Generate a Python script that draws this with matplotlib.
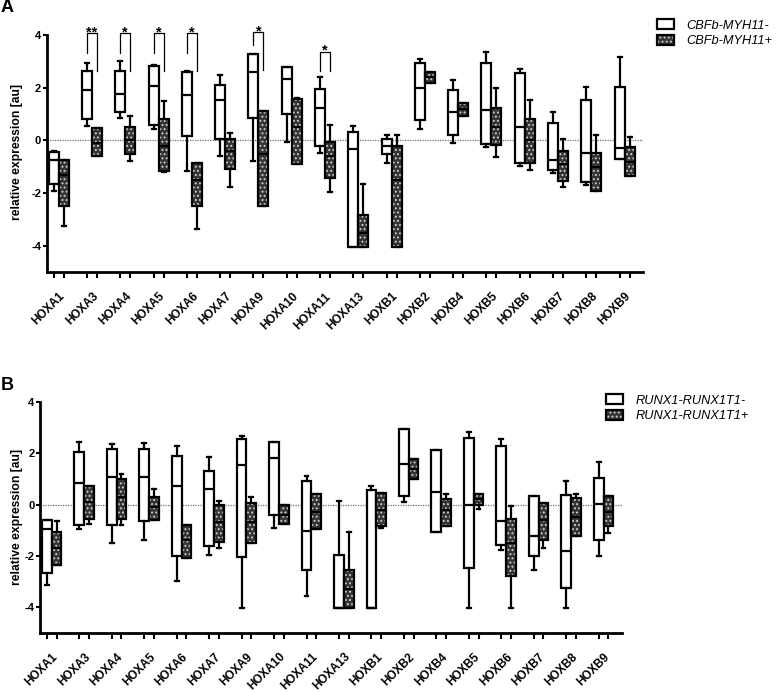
import numpy as np
import matplotlib
matplotlib.use("Agg")
import matplotlib.pyplot as plt
from matplotlib.patches import Patch, PathPatch

plt.rcParams['font.family'] = ['Liberation Sans', 'DejaVu Sans']
plt.rcParams['hatch.linewidth'] = 0.9

# -----------------------------------
# data: one row per gene = [whisker low, q1, median, q3, whisker high]
# -----------------------------------
genes = ["HOXA1", "HOXA3", "HOXA4", "HOXA5", "HOXA6", "HOXA7", "HOXA9",
         "HOXA10", "HOXA11", "HOXA13", "HOXB1", "HOXB2", "HOXB4", "HOXB5",
         "HOXB6", "HOXB7", "HOXB8", "HOXB9"]

cbfb_neg = [[-1.90, -1.65, -0.75, -0.45, -0.40],
            [0.54, 0.80, 1.90, 2.65, 2.93],
            [0.86, 1.07, 1.75, 2.65, 3.00],
            [0.42, 0.57, 2.07, 2.84, 2.86],
            [-1.16, 0.16, 1.74, 2.60, 2.62],
            [-0.59, 0.06, 1.55, 2.11, 2.49],
            [-0.78, 0.86, 2.58, 3.27, 3.29],
            [-0.06, 1.00, 2.33, 2.77, 2.79],
            [-0.49, -0.21, 1.23, 1.95, 2.40],
            [-4.05, -4.05, -0.31, 0.31, 0.54],
            [-0.87, -0.53, -0.20, 0.04, 0.20],
            [0.44, 0.77, 1.99, 2.93, 3.08],
            [-0.11, 0.19, 1.07, 1.92, 2.28],
            [-0.25, -0.15, 1.17, 2.93, 3.37],
            [-0.97, -0.84, 0.52, 2.55, 2.72],
            [-1.22, -1.12, -0.74, 0.67, 1.07],
            [-1.70, -1.57, -0.46, 1.55, 2.03],
            [-0.69, -0.69, -0.28, 2.03, 3.18]]

cbfb_pos = [[-3.25, -2.50, -1.30, -0.75, -0.75],
            [-0.60, -0.60, -0.10, 0.48, 0.48],
            [-0.78, -0.53, 0.00, 0.50, 0.94],
            [-1.20, -1.16, -0.20, 0.80, 1.48],
            [-3.36, -2.48, -1.50, -0.85, -0.85],
            [-1.75, -1.10, -0.40, 0.06, 0.29],
            [-2.50, -2.48, -0.50, 1.10, 1.12],
            [-0.90, -0.90, 0.50, 1.58, 1.60],
            [-1.95, -1.41, -0.60, -0.06, 0.57],
            [-4.05, -4.05, -3.50, -2.83, -1.66],
            [-4.05, -4.05, -1.50, -0.21, 0.20],
            [2.18, 2.18, 2.40, 2.58, 2.58],
            [0.92, 0.92, 1.20, 1.42, 1.42],
            [-0.62, -0.19, 0.50, 1.23, 1.99],
            [-1.12, -0.84, 0.00, 0.82, 1.52],
            [-1.75, -1.53, -0.90, -0.40, 0.06],
            [-1.91, -1.91, -1.00, -0.46, 0.19],
            [-1.35, -1.35, -0.80, -0.24, 0.14]]

runx_neg = [[-3.12, -2.69, -0.95, -0.59, -0.59],
            [-0.95, -0.78, 0.85, 2.04, 2.43],
            [-1.50, -0.81, 1.07, 2.15, 2.38],
            [-1.37, -0.65, 1.08, 2.15, 2.41],
            [-2.99, -2.02, 0.74, 1.91, 2.28],
            [-1.95, -1.60, 0.59, 1.30, 1.86],
            [-4.03, -2.04, 1.56, 2.54, 2.67],
            [-0.91, -0.42, 1.82, 2.43, 2.45],
            [-3.58, -2.56, -1.04, 0.91, 1.10],
            [-4.05, -4.05, -4.05, -1.95, 0.13],
            [-4.05, -4.05, -4.05, 0.56, 0.74],
            [0.09, 0.33, 1.59, 2.93, 2.95],
            [-1.08, -1.08, 0.48, 2.11, 2.13],
            [-4.03, -2.47, 0.00, 2.60, 2.83],
            [-1.76, -1.56, -0.65, 2.28, 2.54],
            [-2.54, -2.02, -1.21, 0.33, 0.35],
            [-4.03, -3.25, -1.82, 0.39, 0.91],
            [-1.99, -1.37, 0.04, 1.04, 1.65]]

runx_pos = [[-2.37, -2.37, -1.70, -1.08, -0.65],
            [-0.74, -0.56, 0.10, 0.72, 0.72],
            [-0.78, -0.56, 0.30, 1.00, 1.20],
            [-0.60, -0.59, -0.10, 0.29, 0.61],
            [-2.08, -2.08, -1.40, -0.78, -0.78],
            [-1.69, -1.47, -0.70, 0.00, 0.13],
            [-1.52, -1.52, -0.70, 0.07, 0.29],
            [-0.74, -0.74, -0.40, 0.00, 0.00],
            [-0.95, -0.95, -0.30, 0.42, 0.42],
            [-4.05, -4.05, -3.30, -2.54, -1.08],
            [-0.90, -0.82, -0.20, 0.45, 0.45],
            [1.00, 1.00, 1.40, 1.76, 1.76],
            [-0.82, -0.82, -0.20, 0.22, 0.43],
            [-0.17, 0.00, 0.20, 0.42, 0.42],
            [-4.03, -2.80, -1.50, -0.56, -0.07],
            [-1.69, -1.37, -0.60, 0.07, 0.07],
            [-1.24, -1.24, -0.50, 0.26, 0.43],
            [-1.10, -0.82, -0.30, 0.33, 0.33]]

# significance brackets in panel A
sig_gene = ["HOXA3", "HOXA4", "HOXA5", "HOXA6", "HOXA9", "HOXA11"]
sig_mark = ["**", "*", "*", "*", "*", "*"]
sig_top = [4.07, 4.07, 4.07, 4.07, 4.12, 3.37]
sig_left = [3.30, 3.30, 3.30, 3.30, 3.62, 2.65]
sig_right = [2.62, 2.62, 2.62, 2.62, 2.68, 2.62]

GRAY = '#343434'
DOTS = '#cfcfcf'
OFF = 0.15

W, H = 778, 692
fig = plt.figure(figsize=(W / 100, H / 100), dpi=100)


def px_axes(l, t, r, b):
    return fig.add_axes([l / W, 1 - b / H, (r - l) / W, (b - t) / H])


def stats(rows):
    return [dict(whislo=r[0], q1=r[1], med=r[2], q3=r[3], whishi=r[4]) for r in rows]


def panel(ax, neg, pos, neg_label, pos_label, leg_xy):
    x = np.arange(len(genes))
    common = dict(widths=0.3, capwidths=0.12, patch_artist=True, showfliers=False,
                  manage_ticks=False,
                  whiskerprops=dict(color='black', lw=1.6),
                  capprops=dict(color='black', lw=1.6),
                  medianprops=dict(color='black', lw=1.6))
    ax.bxp(stats(neg), positions=x - OFF,
           boxprops=dict(facecolor='white', edgecolor='black', lw=1.6), **common)
    bp = ax.bxp(stats(pos), positions=x + OFF,
                boxprops=dict(facecolor=GRAY, edgecolor=DOTS, hatch='....', lw=0), **common)
    for box in bp['boxes']:
        ax.add_patch(PathPatch(box.get_path(), transform=box.get_transform(),
                               facecolor='none', edgecolor='black', lw=1.6,
                               zorder=box.get_zorder() + 0.05))

    ax.axhline(0, color='#707070', ls=(0, (1, 1)), lw=0.9, zorder=0.5)

    ax.set_xlim(-0.36, 17.56)
    ax.set_ylim(-5, 4)
    ax.set_yticks([-4, -2, 0, 2, 4])
    ax.set_yticklabels(['-4', '-2', '0', '2', '4'], fontweight='bold', fontsize=8)
    ax.set_xticks(x)
    ax.set_xticklabels(genes, rotation=45, ha='right', va='top', rotation_mode='anchor',
                       fontweight='bold', fontsize=8.5)
    ax.set_xticks(np.concatenate([x - OFF, x + OFF]), minor=True)
    ax.tick_params(axis='x', which='major', length=0, pad=13)
    ax.tick_params(axis='x', which='minor', length=4.5, width=1.5)
    ax.tick_params(axis='y', length=3, width=1.5, pad=1)
    for s in ['top', 'right']:
        ax.spines[s].set_visible(False)
    for s in ['left', 'bottom']:
        ax.spines[s].set_linewidth(2.0)

    handles = [Patch(facecolor='white', edgecolor='black', lw=1.6),
               (Patch(facecolor=GRAY, edgecolor=DOTS, hatch='....', lw=0),
                Patch(facecolor='none', edgecolor='black', lw=1.6))]
    fig.legend(handles, [neg_label, pos_label], loc='upper left',
               bbox_to_anchor=(leg_xy[0] / W, 1 - leg_xy[1] / H),
               frameon=False, borderpad=0, borderaxespad=0,
               handlelength=1.3, handleheight=0.85, handletextpad=1.0,
               labelspacing=0.25, prop=dict(style='italic', size=9.2))


# -----------------------------------
# panel A
# -----------------------------------
axA = px_axes(46.7, 35, 643.3, 272.3)
panel(axA, cbfb_neg, cbfb_pos, "CBFb-MYH11-", "CBFb-MYH11+", (657, 19))

for g, mark, top, yl, yr in zip(sig_gene, sig_mark, sig_top, sig_left, sig_right):
    i = genes.index(g)
    axA.plot([i - OFF, i - OFF, i + OFF, i + OFF], [yl, top, top, yr],
             color='black', lw=0.9, clip_on=False)
    axA.text(i, top - 0.12, mark, ha='center', va='baseline', fontsize=10.5,
             fontweight='bold', clip_on=False)

fig.text(17 / W, 1 - 152 / H, "relative expression [au]", rotation=90,
         ha='center', va='center', fontsize=8.7, fontweight='bold')
fig.text(7 / W, 1 - 7 / H, "A", ha='center', va='center', fontsize=13, fontweight='bold')

# -----------------------------------
# panel B
# -----------------------------------
axB = px_axes(40, 402, 621.7, 632.7)
panel(axB, runx_neg, runx_pos, "RUNX1-RUNX1T1-", "RUNX1-RUNX1T1+", (606, 394))

fig.text(16.7 / W, 1 - 517 / H, "relative expression [au]", rotation=90,
         ha='center', va='center', fontsize=8.7, fontweight='bold')
fig.text(7 / W, 1 - 386 / H, "B", ha='center', va='center', fontsize=13, fontweight='bold')

fig.savefig("out.png", dpi=100)
